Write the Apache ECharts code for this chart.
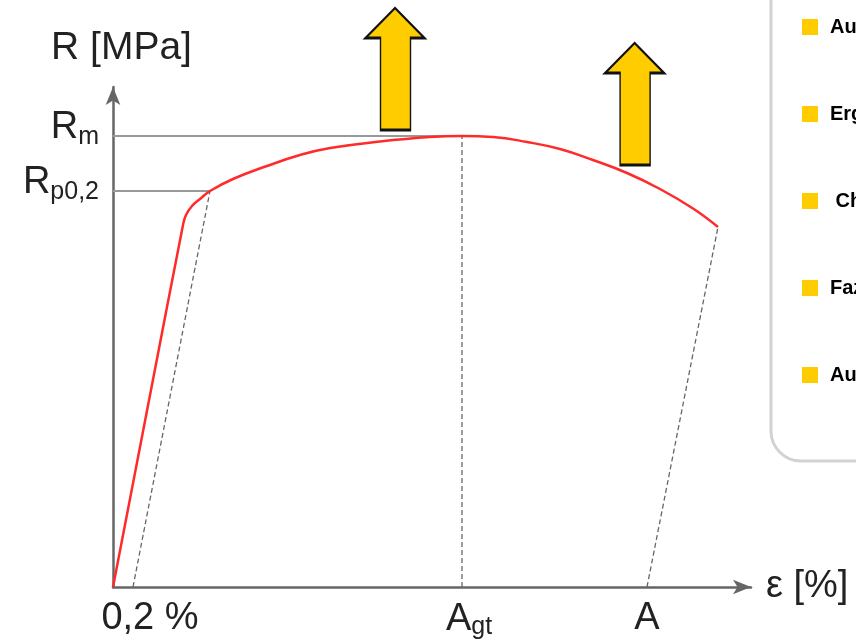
<!DOCTYPE html>
<html>
<head>
<meta charset="utf-8">
<script src="https://cdn.jsdelivr.net/npm/echarts@6/dist/echarts.min.js"></script>
<style>
html,body{margin:0;padding:0;background:#fff;}
#c{width:856px;height:643px;}
</style>
</head>
<body>
<div id="c"></div>
<script>
// Stress-strain curve (ε in arbitrary units, R in arbitrary units)
var curveX = [0, 3.5, 3.65, 3.95, 4.35, 4.85, 6.0, 7.7, 9.35, 10.85, 13.35, 15.85, 17.45, 19.0, 20.7, 22.35, 24.0, 25.7, 27.35, 29.0, 30.25];
var curveY = [0, 362, 372, 381, 388, 396, 408, 421, 432, 439, 445.5, 450, 451, 450, 445, 438, 427, 414, 398, 378.5, 360];

// helper lines
var offsetLineX = [1.0, 4.85];   var offsetLineY = [0, 396];
var agtLineX = [17.45, 17.45];   var agtLineY = [0, 451];
var unloadLineX = [26.7, 30.25]; var unloadLineY = [0, 360];
var rmLineX = [0, 17.45];        var rmLineY = [451, 451];
var rpLineX = [0, 4.85];         var rpLineY = [396, 396];

// tick labels
var yTickValues = [396, 451];
var yTickLabels = ['{R|R}{s|p0,2}', '{R|R}{s|m}'];
var xTickValues = [1.0, 17.45, 26.7];
var xTickLabels = ['{o|0,2 %}', '{A|A}{s|gt}', '{n|A}'];

// decorative arrows (position in data units)
var arrowsX = [14.1, 26.08];
var arrowsY = [518, 483];

// legend entries (cut off at the right border)
var legendNames = ['Aufbau', 'Ergebnisse', ' Charakteristik', 'Fazit', 'Ausblick'];

function pairs(xs, ys) { return xs.map(function (x, i) { return [x, ys[i]]; }); }
function pick(vals, labels, v) {
  for (var i = 0; i < vals.length; i++) if (Math.abs(vals[i] - v) < 1e-6) return labels[i];
  return '';
}

var FONT = '"Liberation Sans", Arial, sans-serif';
var dashStyle = { color: '#666', width: 1.3, type: [5, 3] };
var arrowPath = 'path://M29.5,0 L59,30 L45,30 L45,122 L15,122 L15,30 L0,30 Z';

var series = [
  { type: 'line', data: pairs(rmLineX, rmLineY), symbol: 'none', lineStyle: { color: '#999', width: 2 }, silent: true, z: 2 },
  { type: 'line', data: pairs(rpLineX, rpLineY), symbol: 'none', lineStyle: { color: '#999', width: 2 }, silent: true, z: 2 },
  { type: 'line', data: pairs(offsetLineX, offsetLineY), symbol: 'none', lineStyle: dashStyle, silent: true, z: 2 },
  { type: 'line', data: pairs(agtLineX, agtLineY), symbol: 'none', lineStyle: dashStyle, silent: true, z: 2 },
  { type: 'line', data: pairs(unloadLineX, unloadLineY), symbol: 'none', lineStyle: dashStyle, silent: true, z: 2 },
  { type: 'line', data: pairs(curveX, curveY), symbol: 'none', smooth: 0.45, lineStyle: { color: '#ff2a2a', width: 2.5 }, silent: true, z: 3 },
  { type: 'scatter', data: pairs(arrowsX, arrowsY), symbol: arrowPath, symbolSize: [59, 122], clip: false,
    itemStyle: { color: '#ffcc00', borderColor: '#111', borderWidth: 2, opacity: 1 }, silent: true, z: 5 }
];
legendNames.forEach(function (n) {
  series.push({ type: 'line', name: n, data: [], symbol: 'none', itemStyle: { color: '#ffcc00' }, lineStyle: { color: '#ffcc00' } });
});

var chart = echarts.init(document.getElementById('c'), null, { renderer: 'canvas' });
chart.setOption({
  backgroundColor: '#fff',
  animation: false,
  textStyle: { fontFamily: FONT },
  grid: { left: 113, right: 105, top: 87, bottom: 56, containLabel: false },
  legend: {
    data: legendNames,
    orient: 'vertical',
    left: 771, top: -40,
    padding: [57, 40, 76, 31],
    itemGap: 67,
    itemWidth: 16, itemHeight: 16,
    icon: 'rect',
    borderColor: '#d2d2d2', borderWidth: 3, borderRadius: 30,
    backgroundColor: '#fff',
    selectedMode: false,
    textStyle: { fontFamily: FONT, fontWeight: 'bold', fontSize: 20, color: '#000', padding: [0, 0, 0, 7] }
  },
  xAxis: {
    type: 'value', min: 0, max: 31.9,
    name: 'ε [%]', nameLocation: 'end', nameGap: 15,
    nameTextStyle: { fontFamily: FONT, fontSize: 38, color: '#222' },
    axisLine: { show: true, symbol: ['none', 'arrow'], symbolSize: [11, 18], lineStyle: { color: '#666', width: 2.5 } },
    axisTick: { show: false },
    splitLine: { show: false },
    axisLabel: {
      customValues: xTickValues,
      margin: 13,
      formatter: function (v) { return pick(xTickValues, xTickLabels, v); },
      rich: {
        o: { fontFamily: FONT, fontSize: 38, color: '#222', padding: [0, 0, 0, 34] },
        A: { fontFamily: FONT, fontSize: 38, color: '#222', padding: [0, 0, 0, 14] },
        n: { fontFamily: FONT, fontSize: 38, color: '#222' },
        s: { fontFamily: FONT, fontSize: 25, color: '#222', padding: [15, 0, 0, 0] }
      }
    }
  },
  yAxis: {
    type: 'value', min: 0, max: 500,
    name: 'R [MPa]', nameLocation: 'end', nameGap: 19,
    nameTextStyle: { fontFamily: FONT, fontSize: 39, color: '#222', padding: [0, 0, 0, 17] },
    axisLine: { show: true, symbol: ['none', 'arrow'], symbolSize: [11, 18], lineStyle: { color: '#666', width: 2.5 } },
    axisTick: { show: false },
    splitLine: { show: false },
    axisLabel: {
      customValues: yTickValues,
      margin: 14,
      formatter: function (v) { return pick(yTickValues, yTickLabels, v); },
      rich: {
        R: { fontFamily: FONT, fontSize: 38, color: '#222', padding: [0, 0, 16, 0] },
        s: { fontFamily: FONT, fontSize: 25, color: '#222', padding: [2, 0, 0, 0] }
      }
    }
  },
  series: series
});
</script>
</body>
</html>
